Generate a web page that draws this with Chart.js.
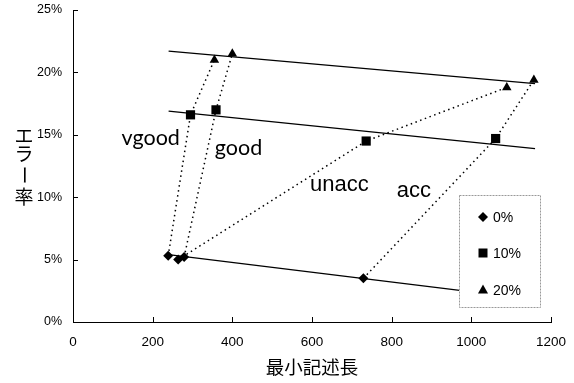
<!DOCTYPE html>
<html><head><meta charset="utf-8">
<script src="https://cdn.jsdelivr.net/npm/chart.js@4/dist/chart.umd.min.js"></script>
<style>html,body{margin:0;padding:0;background:#fff}canvas{display:block}</style>
</head><body>
<canvas id="c" width="574" height="383"></canvas>
<script>
// ---- data ----
const categories = ['vgood', 'good', 'unacc', 'acc'];
const noiseLevels = ['0%', '10%', '20%'];
const descLen0  = [239, 279, 264, 729];
const errRate0  = [5.3, 5.2, 5.0, 3.5];
const descLen10 = [295, 359, 736, 1061];
const errRate10 = [16.6, 17.0, 14.5, 14.7];
const descLen20 = [355, 400, 1089, 1157];
const errRate20 = [21.0, 21.5, 18.8, 19.4];
const trendX  = [240, 1160];
const trend0  = [5.4, 1.8];
const trend10 = [16.9, 13.9];
const trend20 = [21.7, 19.1];
const xTicks = [0, 200, 400, 600, 800, 1000, 1200];
const yTicks = [0, 5, 10, 15, 20, 25];
const labelAnchorX = [122, 356, 595, 813];
const labelAnchorY = [14.2, 13.4, 10.5, 10.0];
const xTitle = '最小記述長';
const yTitle = 'エラー率';

const seriesX = [descLen0, descLen10, descLen20];
const seriesY = [errRate0, errRate10, errRate20];
const trends = [trend0, trend10, trend20];
const markers = ['rectRot', 'rect', 'triangle'];
const markerRadius = [5, 6.5, 5.5];

const pts = (xs, ys) => xs.map((x, i) => ({x: x, y: ys[i]}));

const datasets = [];
categories.forEach((c, i) => {
  datasets.push({
    label: c, type: 'line',
    data: seriesX.map((xs, k) => ({x: xs[i], y: seriesY[k][i]})),
    borderColor: '#000', borderWidth: 1.5, borderDash: [1.5, 3.5],
    pointRadius: 0, fill: false, tension: 0, order: 3
  });
});
trends.forEach((t, k) => {
  datasets.push({
    label: 'trend ' + noiseLevels[k], type: 'line',
    data: pts(trendX, t),
    borderColor: '#000', borderWidth: 1.3,
    pointRadius: 0, fill: false, tension: 0, order: 2
  });
});
noiseLevels.forEach((n, k) => {
  datasets.push({
    label: n, type: 'scatter',
    data: pts(seriesX[k], seriesY[k]),
    pointStyle: markers[k], pointRadius: markerRadius[k],
    backgroundColor: '#000', borderColor: '#000', borderWidth: 0,
    showLine: false, order: 1
  });
});

const decor = {
  id: 'decor',
  afterDraw(chart) {
    const ctx = chart.ctx;
    const xs = chart.scales.x, ys = chart.scales.y;
    const ca = chart.chartArea;
    ctx.save();
    ctx.strokeStyle = '#000';
    ctx.lineWidth = 1;
    ctx.beginPath();
    yTicks.forEach(v => {
      const y = Math.round(ys.getPixelForValue(v)) + 0.5;
      ctx.moveTo(ca.left, y); ctx.lineTo(ca.left + 5, y);
    });
    xTicks.forEach(v => {
      const x = Math.round(xs.getPixelForValue(v)) + 0.5;
      ctx.moveTo(x, ca.bottom); ctx.lineTo(x, ca.bottom - 5);
    });
    ctx.stroke();

    ctx.fillStyle = '#000';
    ctx.textBaseline = 'alphabetic';
    ctx.textAlign = 'left';
    categories.forEach((c, i) => {
      ctx.font = (i < 2 ? '21.5px Lato' : '22px "Liberation Sans"');
      ctx.fillText(c, xs.getPixelForValue(labelAnchorX[i]), ys.getPixelForValue(labelAnchorY[i]));
    });

    ctx.font = '18.5px "Noto Sans CJK JP"';
    ctx.textAlign = 'center';
    ctx.textBaseline = 'middle';
    ctx.fillText(xTitle, (ca.left + ca.right) / 2, 367);

    const chars = Array.from(yTitle);
    const cy = [135.5, 154, 175, 197];
    ctx.font = '19px "Noto Sans CJK JP"';
    chars.forEach((ch, i) => {
      ctx.save();
      ctx.translate(24, cy[i]);
      if (ch === 'ー') ctx.rotate(Math.PI / 2);
      ctx.fillText(ch, 0, 0);
      ctx.restore();
    });

    const lx = ca.right - 92, ly = 195, lw = 81, lh = 112;
    ctx.fillStyle = '#fff';
    ctx.fillRect(lx, ly, lw, lh);
    ctx.strokeStyle = '#999';
    ctx.lineWidth = 1;
    ctx.setLineDash([2, 1]);
    ctx.strokeRect(lx + 0.5, ly + 0.5, lw, lh);
    ctx.setLineDash([]);
    const rows = [217, 253, 290];
    ctx.fillStyle = '#000';
    ctx.font = '14px "Liberation Sans"';
    ctx.textAlign = 'left';
    ctx.textBaseline = 'middle';
    noiseLevels.forEach((n, k) => {
      const mx = lx + 24, my = rows[k];
      ctx.beginPath();
      if (k === 0) {
        ctx.moveTo(mx, my - 5); ctx.lineTo(mx + 5, my); ctx.lineTo(mx, my + 5); ctx.lineTo(mx - 5, my);
      } else if (k === 1) {
        ctx.rect(mx - 4.5, my - 4.5, 9, 9);
      } else {
        ctx.moveTo(mx, my - 5.5); ctx.lineTo(mx + 5, my + 3.5); ctx.lineTo(mx - 5, my + 3.5);
      }
      ctx.closePath();
      ctx.fill();
      ctx.fillText(n, mx + 10, my + 1);
    });
    ctx.restore();
  }
};

new Chart(document.getElementById('c'), {
  type: 'scatter',
  data: {datasets: datasets},
  options: {
    responsive: false,
    animation: false,
    devicePixelRatio: 1,
    layout: {padding: {left: 0, top: 10, right: 23, bottom: 0}},
    plugins: {legend: {display: false}, tooltip: {enabled: false}},
    scales: {
      x: {
        type: 'linear', min: 0, max: 1200,
        afterBuildTicks: s => { s.ticks = xTicks.map(v => ({value: v})); },
        ticks: {color: '#000', font: {family: 'Liberation Sans', size: 13.5}, padding: 12, maxRotation: 0,
                callback: v => String(v)},
        grid: {display: true, drawOnChartArea: false, drawTicks: false},
        border: {display: true, color: '#000', width: 1},
        afterFit: s => { s.height = 61; s.paddingLeft = 0; s.paddingRight = 0; }
      },
      y: {
        type: 'linear', min: 0, max: 25,
        afterBuildTicks: s => { s.ticks = yTicks.map(v => ({value: v})); },
        ticks: {color: '#000', font: {family: 'Liberation Sans', size: 12.5}, padding: 11,
                callback: v => v + '%'},
        grid: {display: true, drawOnChartArea: false, drawTicks: false},
        border: {display: true, color: '#000', width: 1},
        afterFit: s => { s.width = 73; s.paddingTop = 0; s.paddingBottom = 0; }
      }
    }
  },
  plugins: [decor]
});
</script>
</body></html>
